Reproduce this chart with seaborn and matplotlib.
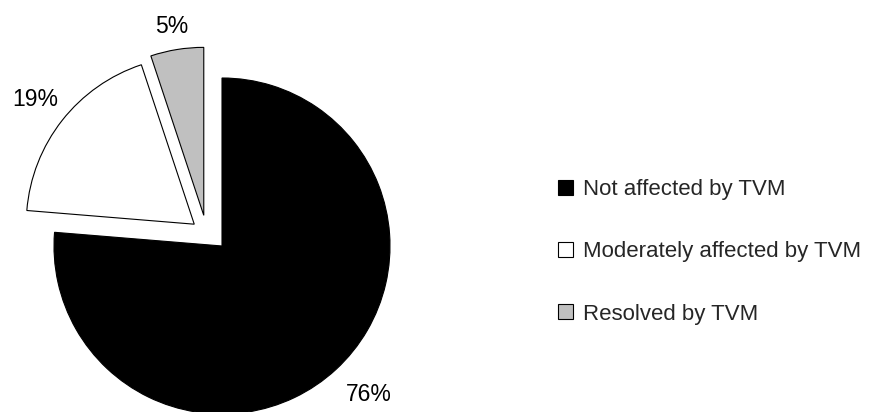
import matplotlib
matplotlib.use("Agg")
import matplotlib.pyplot as plt
import seaborn as sns
import numpy as np
from matplotlib.patches import Patch

categories = ["Not affected by TVM", "Moderately affected by TVM", "Resolved by TVM"]
shares = [76.3, 18.6, 5.1]
slice_colors = ["#000000", "#FFFFFF", "#C0C0C0"]
explode = [0.0, 0.21, 0.21]
# extra sideways nudge of the exploded grey slice (radius units), as in the reference
gray_nudge = (-0.075, -0.025)

sns.set_theme(style="white")
plt.rcParams["font.family"] = ["Liberation Sans", "DejaVu Sans"]

W, H = 880, 412
fig = plt.figure(figsize=(W / 100, H / 100), dpi=100)

cx, cy, r = 222, 246, 168
ax = fig.add_axes([0, 0, 0.5, 1])
wedges, texts, autotexts = ax.pie(
    shares, colors=slice_colors, startangle=90, counterclock=False,
    explode=explode, autopct=lambda p: f"{p:.0f}%", pctdistance=1.2,
    wedgeprops=dict(edgecolor="black", linewidth=0.8),
    textprops=dict(fontsize=16.5, color="black"))

# shift grey slice and its label together
w = wedges[2]
c = np.array(w.center) + np.array(gray_nudge)
w.set_center(tuple(c))
x, y = autotexts[2].get_position()
autotexts[2].set_position((x + gray_nudge[0], y + gray_nudge[1] - 0.06))
# small label offset for the big slice
x, y = autotexts[0].get_position()
autotexts[0].set_position((x + 0.06, y))

ax.set_xlim(-cx / r, (0.5 * W - cx) / r)
ax.set_ylim(-(H - cy) / r, cy / r)
ax.set_aspect("auto")
ax.axis("off")

handles = [Patch(facecolor=col, edgecolor="black", linewidth=0.8) for col in slice_colors]
fig.legend(handles, categories, loc="center left",
           bbox_to_anchor=(558 / W, 1 - 252 / H), frameon=False,
           fontsize=16, handlelength=0.68, handleheight=0.68,
           handletextpad=0.45, labelspacing=1.85, borderpad=0, borderaxespad=0)

fig.savefig("out.png", dpi=100)
